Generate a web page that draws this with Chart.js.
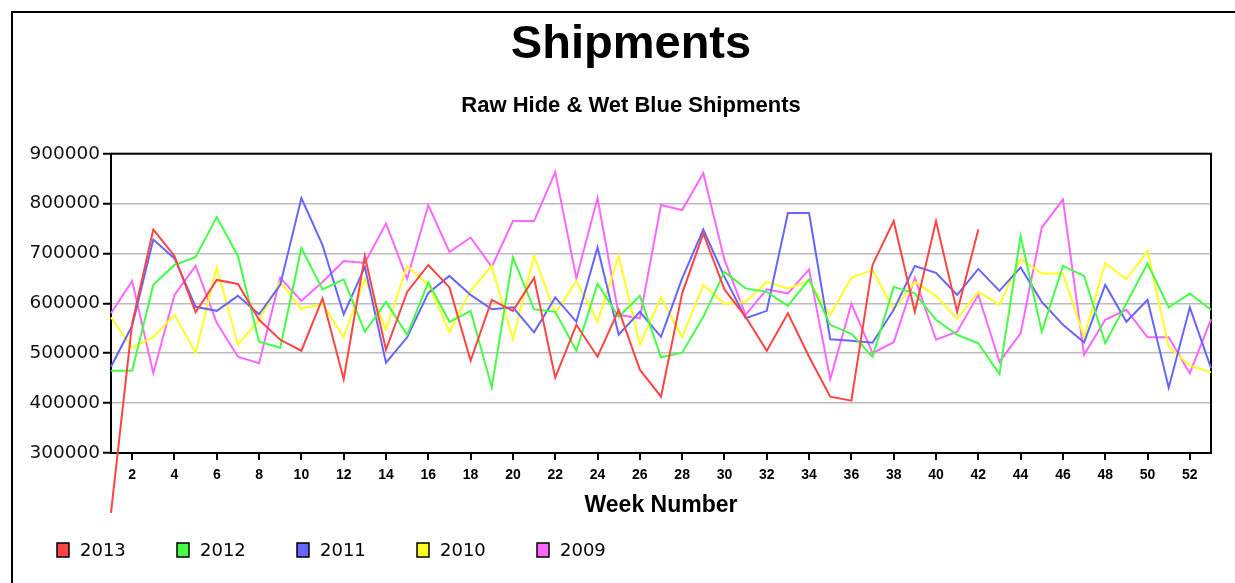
<!DOCTYPE html>
<html>
<head>
<meta charset="utf-8">
<script src="https://cdn.jsdelivr.net/npm/chart.js@4.4.1/dist/chart.umd.min.js"></script>
<style>
  html, body { margin: 0; padding: 0; background: #fff; overflow: hidden; }
  #wrap { position: relative; width: 1235px; height: 583px; }
  #frame { position: absolute; left: 11px; top: 11px; width: 2000px; height: 2000px; border: 2px solid #000; box-sizing: border-box; }
  canvas { position: absolute; left: 0; top: 0; }
</style>
</head>
<body>
<div id="wrap">
  <div id="frame"></div>
  <canvas id="c" width="1235" height="583"></canvas>
</div>
<script>
const weeks = [1,2,3,4,5,6,7,8,9,10,11,12,13,14,15,16,17,18,19,20,21,22,23,24,25,26,27,28,29,30,31,32,33,34,35,36,37,38,39,40,41,42,43,44,45,46,47,48,49,50,51,52,53];
const xTickWeeks = [2,4,6,8,10,12,14,16,18,20,22,24,26,28,30,32,34,36,38,40,42,44,46,48,50,52];
const yTickValues = [300000,400000,500000,600000,700000,800000,900000];

const seriesNames = ['2013', '2012', '2011', '2010', '2009'];
const seriesColors = ['#ff4444', '#44ff44', '#6666ff', '#ffff22', '#ff66ff'];

const s2013 = [180000, 560000, 748000, 695000, 582000, 647000, 639000, 567000, 527000, 505000,
  610000, 448000, 695000, 507000, 623000, 677000, 632000, 485000, 607000, 585000,
  651000, 451000, 557000, 493000, 587000, 467000, 413000, 620000, 740000, 628000,
  573000, 505000, 580000, 493000, 413000, 405000, 677000, 765000, 583000, 765000,
  583000, 748000];
const s2012 = [465000, 465000, 637000, 677000, 693000, 773000, 695000, 523000, 511000, 711000,
  628000, 648000, 543000, 603000, 537000, 642000, 563000, 585000, 432000, 692000,
  588000, 583000, 505000, 639000, 573000, 615000, 492000, 501000, 573000, 663000,
  630000, 623000, 595000, 648000, 557000, 539000, 493000, 633000, 620000, 567000,
  537000, 520000, 458000, 735000, 543000, 675000, 655000, 520000, 600000, 680000,
  592000, 620000, 587000];
const s2011 = [473000, 555000, 728000, 690000, 593000, 585000, 615000, 578000, 637000, 811000,
  717000, 578000, 673000, 481000, 532000, 621000, 655000, 617000, 588000, 592000,
  542000, 612000, 563000, 712000, 537000, 583000, 533000, 650000, 748000, 653000,
  570000, 585000, 781000, 781000, 528000, 525000, 521000, 587000, 675000, 661000,
  617000, 669000, 625000, 672000, 603000, 557000, 522000, 637000, 563000, 607000,
  431000, 592000, 470000];
const s2010 = [572000, 511000, 532000, 577000, 501000, 672000, 517000, 567000, 643000, 589000,
  599000, 532000, 650000, 548000, 675000, 637000, 543000, 625000, 675000, 528000,
  695000, 580000, 645000, 563000, 695000, 517000, 612000, 532000, 637000, 599000,
  603000, 643000, 630000, 645000, 577000, 651000, 667000, 588000, 643000, 615000,
  569000, 623000, 597000, 689000, 660000, 660000, 533000, 681000, 648000, 705000,
  513000, 475000, 462000];
const s2009 = [580000, 645000, 460000, 617000, 675000, 561000, 493000, 480000, 651000, 605000,
  643000, 685000, 681000, 760000, 649000, 797000, 703000, 732000, 673000, 765000,
  765000, 863000, 650000, 811000, 577000, 570000, 797000, 787000, 861000, 687000,
  577000, 628000, 620000, 668000, 448000, 599000, 500000, 522000, 651000, 527000,
  543000, 617000, 483000, 540000, 752000, 808000, 497000, 567000, 587000, 532000,
  532000, 460000, 568000];

const allSeries = [s2013, s2012, s2011, s2010, s2009];

const datasets = allSeries.map((vals, i) => ({
  label: seriesNames[i],
  data: vals.map((v, j) => ({ x: weeks[j], y: v })),
  borderColor: seriesColors[i],
  backgroundColor: seriesColors[i],
  borderWidth: 2,
  pointRadius: 0,
  tension: 0,
  clip: false,
  yAxisID: 'y'
}));

const framePlugin = {
  id: 'frame',
  beforeDatasetsDraw(chart) {
    const { ctx, chartArea: a } = chart;
    ctx.save();
    ctx.strokeStyle = '#000';
    ctx.lineWidth = 2;
    ctx.strokeRect(a.left, a.top, a.right - a.left, a.bottom - a.top);
    ctx.restore();
  }
};

const legendPlugin = {
  id: 'bottomLegend',
  afterDraw(chart) {
    const ctx = chart.ctx;
    ctx.save();
    ctx.font = '18px "DejaVu Sans", sans-serif';
    ctx.textBaseline = 'middle';
    ctx.textAlign = 'left';
    chart.data.datasets.forEach((ds, i) => {
      const x = 57 + i * 120;
      const y = 550;
      ctx.fillStyle = ds.borderColor;
      ctx.fillRect(x, y - 7, 12, 14);
      ctx.strokeStyle = '#000';
      ctx.lineWidth = 1.5;
      ctx.strokeRect(x, y - 7, 12, 14);
      ctx.fillStyle = '#000';
      ctx.fillText(ds.label, x + 23, y + 1);
    });
    ctx.restore();
  }
};

new Chart(document.getElementById('c'), {
  type: 'line',
  data: { datasets },
  plugins: [framePlugin, legendPlugin],
  options: {
    responsive: false,
    animation: false,
    events: [],
    layout: { padding: { left: 4, right: -23, top: 0, bottom: 60 } },
    plugins: {
      legend: { display: false },
      tooltip: { enabled: false },
      title: {
        display: true,
        text: 'Shipments',
        color: '#000',
        font: { family: '"Liberation Sans", Arial, sans-serif', size: 47, weight: 'bold' },
        padding: { top: 17, bottom: 0 }
      },
      subtitle: {
        display: true,
        text: 'Raw Hide & Wet Blue Shipments',
        color: '#000',
        font: { family: '"Liberation Sans", Arial, sans-serif', size: 22, weight: 'bold' },
        padding: { top: 19.5, bottom: 34.4 }
      }
    },
    scales: {
      x: {
        type: 'linear',
        min: 1,
        max: 53,
        offset: false,
        afterBuildTicks(scale) { scale.ticks = xTickWeeks.map(v => ({ value: v })); },
        afterFit(scale) { scale.height = 70; },
        ticks: {
          autoSkip: false,
          maxRotation: 0,
          padding: 7,
          color: '#000',
          font: { family: '"Liberation Sans Narrow", "Liberation Sans", Arial, sans-serif', size: 14, weight: 'bold' },
          callback: (v) => String(v)
        },
        grid: { drawOnChartArea: false, color: '#000', tickColor: '#000', tickLength: 7, lineWidth: 2 },
        border: { display: true, color: '#000', width: 2 },
        title: {
          display: true,
          text: 'Week Number',
          color: '#000',
          font: { family: '"Liberation Sans", Arial, sans-serif', size: 23, weight: 'bold' },
          padding: { top: 0, bottom: 4 }
        }
      },
      y: {
        position: 'left',
        min: 300000,
        max: 900000,
        afterBuildTicks(scale) { scale.ticks = yTickValues.map(v => ({ value: v })); },
        afterFit(scale) { scale.width = 107; },
        ticks: {
          padding: 3,
          color: '#111',
          font: { family: '"DejaVu Sans", sans-serif', size: 18.5 },
          callback: (v) => String(v)
        },
        grid: { color: '#bcbcbc', lineWidth: 1.5, tickColor: '#000', tickLength: 8, tickWidth: 2 },
        border: { display: true, color: '#000', width: 2 }
      },
      yRight: {
        type: 'linear',
        position: 'right',
        display: true,
        min: 300000,
        max: 900000,
        afterFit(scale) { scale.width = 47; },
        ticks: { display: false },
        grid: { display: false },
        border: { display: false }
      }
    }
  }
});
</script>
</body>
</html>
